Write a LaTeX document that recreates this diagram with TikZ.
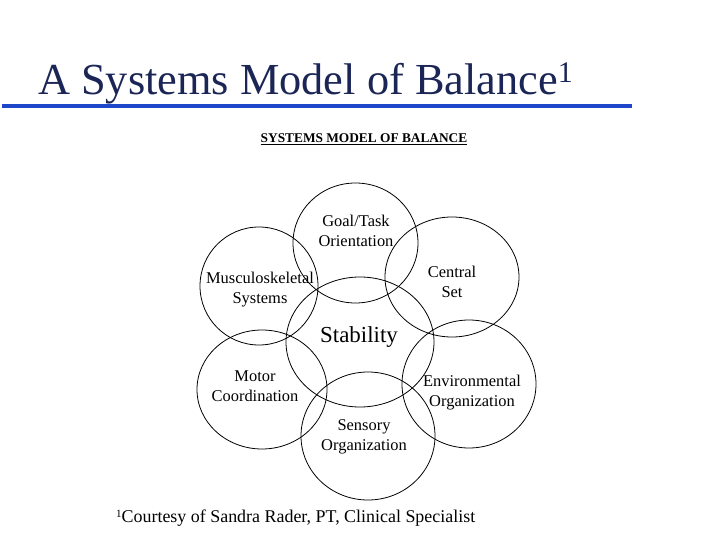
\documentclass[tikz,border=0pt]{standalone}
\usepackage{fontspec}
\setmainfont{Liberation Serif}
\usepackage{tikz}

\definecolor{titlenavy}{RGB}{27,38,86}
\definecolor{rulerblue}{RGB}{30,70,200}

\begin{document}
\begin{tikzpicture}[x=1bp,y=-1bp,
  ring/.style={line width=0.8bp},
  part/.style={align=center,inner sep=0pt,font=\fontsize{16.5}{20}\selectfont}]
\useasboundingbox (0,0) rectangle (720,540);
% title and rule
\node[anchor=base west,inner sep=0pt,text=titlenavy,font=\fontsize{44.5}{48}\selectfont] (title) at (38,95) {A Systems Model of Balance\raisebox{12bp}{\fontsize{30}{32}\selectfont 1}};
\coordinate (ruleL) at (2,106);
\coordinate (ruleR) at (632,106);
\draw[rulerblue,line width=4bp] (ruleL) -- (ruleR);
\node[anchor=base,inner sep=0pt,font=\bfseries\fontsize{13.4}{15}\selectfont] (head) at (364,143) {\underline{SYSTEMS MODEL OF BALANCE}};
% the seven rings
\draw[ring] (355.5,243) ellipse [x radius=62.5bp, y radius=60bp];
\draw[ring] (259,286) ellipse [x radius=59bp, y radius=59bp];
\draw[ring] (452,277) ellipse [x radius=67bp, y radius=60bp];
\draw[ring] (360,342) ellipse [x radius=74bp, y radius=65bp];
\draw[ring] (262,389.5) ellipse [x radius=65bp, y radius=59.5bp];
\draw[ring] (469,384) ellipse [x radius=67bp, y radius=64bp];
\draw[ring] (368,436) ellipse [x radius=67bp, y radius=64bp];
% labels
\node[part] (goal) at (356,231) {Goal/Task\\Orientation};
\node[part] (muscle) at (260,290) {Musculoskeletal\\Systems};
\node[part] (central) at (452,282) {Central\\Set};
\node[inner sep=0pt,font=\fontsize{23}{26}\selectfont] (stab) at (359,337) {Stability};
\node[part] (motor) at (255,386) {Motor\\Coordination};
\node[part] (envir) at (472,393) {Environmental\\Organization};
\node[part] (sensory) at (364,437) {Sensory\\Organization};
% footnote
\node[anchor=base west,inner sep=0pt,font=\fontsize{18}{20}\selectfont] (credit) at (116,522) {\raisebox{5bp}{\fontsize{11}{12}\selectfont 1}Courtesy of Sandra Rader, PT, Clinical Specialist};
\end{tikzpicture}
\end{document}
